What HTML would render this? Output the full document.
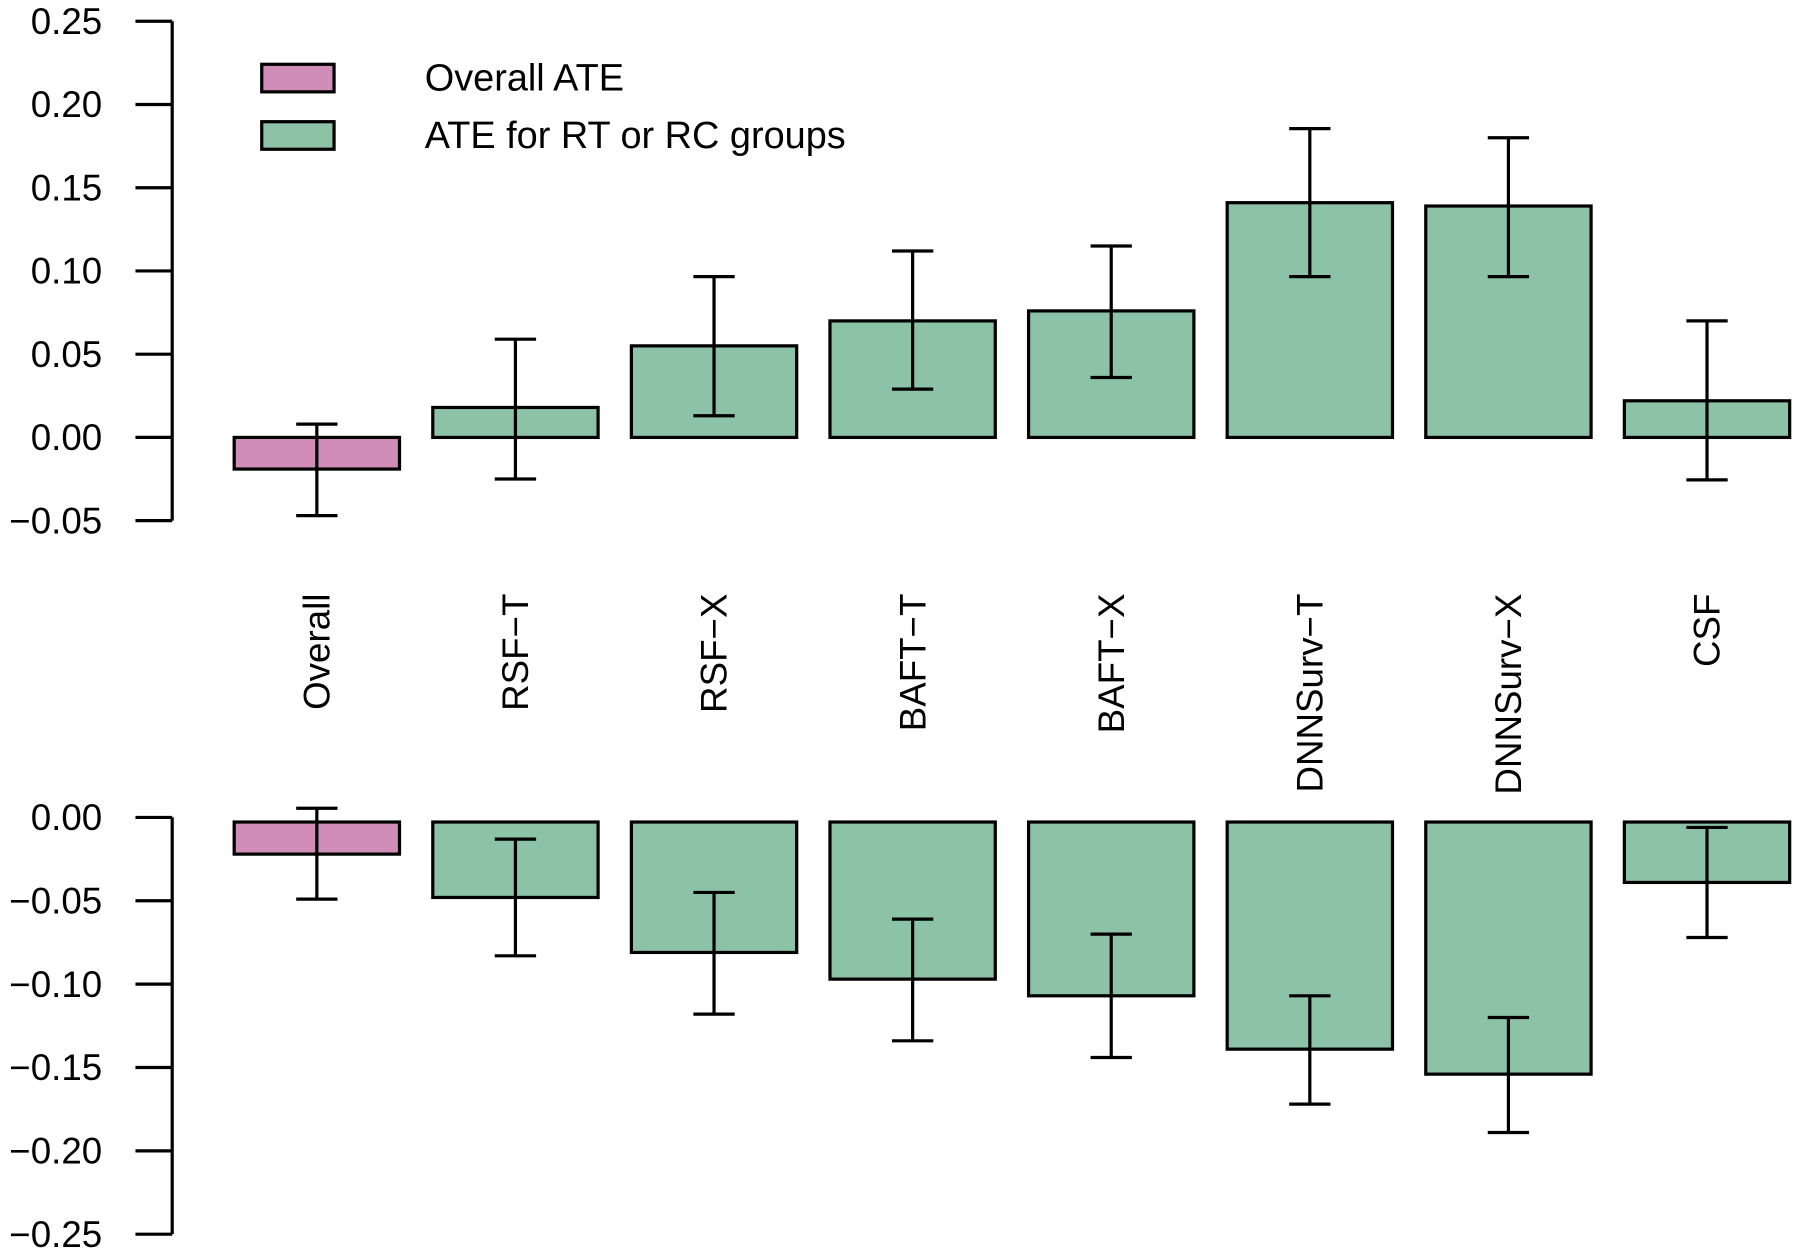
<!DOCTYPE html>
<html><head><meta charset="utf-8"><style>html,body{margin:0;padding:0;background:#fff}svg{display:block}</style></head>
<body>
<svg id="chart" width="1800" height="1256" viewBox="0 0 1568 1094" preserveAspectRatio="none" xmlns="http://www.w3.org/2000/svg" font-family="'Liberation Sans', sans-serif"></svg>
<script>
const categories = ["Overall","RSF\u2212T","RSF\u2212X","BAFT\u2212T","BAFT\u2212X","DNNSurv\u2212T","DNNSurv\u2212X","CSF"];
const topValues = [-0.019,0.018,0.055,0.070,0.076,0.141,0.139,0.022];
const topLow = [-0.047,-0.025,0.013,0.029,0.036,0.0966,0.0966,-0.0255];
const topHigh = [0.008,0.059,0.0966,0.112,0.115,0.1855,0.180,0.070];
const botValues = [-0.022,-0.048,-0.081,-0.097,-0.107,-0.139,-0.154,-0.039];
const botLow = [-0.049,-0.083,-0.118,-0.134,-0.144,-0.172,-0.189,-0.072];
const botHigh = [0.0055,-0.013,-0.045,-0.061,-0.070,-0.107,-0.120,-0.006];
const topTicks = [0.25,0.20,0.15,0.10,0.05,0.00,-0.05];
const botTicks = [0.00,-0.05,-0.10,-0.15,-0.20,-0.25];

const svg = document.getElementById('chart');
const NS = 'http://www.w3.org/2000/svg';
function mk(tag, attrs, parent){const e=document.createElementNS(NS,tag);for(const k in attrs)e.setAttribute(k,attrs[k]);(parent||svg).appendChild(e);return e;}
const PINK='#cf8db7', GREEN='#8cc2a6';
const SW = 2.8;
const xc = i => 276 + i*173;
const BW = 144;
const yTop = v => 381 - v/0.05*72.5;
const yBot = v => 712 - v/0.05*72.6;

function panel(name, yf, ticks, vals, lo, hi, zeroOff){
  const g = mk('g',{});
  
  
  const ax = mk('line',{x1:150,x2:150,y1:yf(ticks[0]),y2:yf(ticks[ticks.length-1]),stroke:'#000','stroke-width':SW},g);
  
  
  ticks.forEach(t=>{
    const tk = mk('line',{x1:118,x2:150,y1:yf(t),y2:yf(t),stroke:'#000','stroke-width':SW},g);
    
    
    const lb = mk('text',{x:89,y:yf(t)+11,'text-anchor':'end','font-size':32,fill:'#000'},g);
    lb.textContent = t.toFixed(2).replace('-','\u2212');
    
    
  });
  vals.forEach((v,i)=>{
    const y0 = yf(0)+zeroOff, y1 = yf(v);
    const r = mk('rect',{x:xc(i)-BW/2,y:Math.min(y0,y1),width:BW,height:Math.abs(y1-y0),fill:i===0?PINK:GREEN,stroke:'#000','stroke-width':SW},g);
    
    
    const eg = mk('g',{stroke:'#000','stroke-width':SW},g);
    
    
    mk('line',{x1:xc(i),x2:xc(i),y1:yf(lo[i]),y2:yf(hi[i])},eg);
    mk('line',{x1:xc(i)-18,x2:xc(i)+18,y1:yf(lo[i]),y2:yf(lo[i])},eg);
    mk('line',{x1:xc(i)-18,x2:xc(i)+18,y1:yf(hi[i]),y2:yf(hi[i])},eg);
  });
}
panel('top-panel', yTop, topTicks, topValues, topLow, topHigh, 0);
panel('bottom-panel', yBot, botTicks, botValues, botLow, botHigh, 4);

categories.forEach((c,i)=>{
  const t = mk('text',{x:0,y:0,transform:`translate(${xc(i)+11},517) rotate(-90)`,'text-anchor':'end','font-size':32,fill:'#000'});
  t.textContent = c;
  
  
});

const legend = mk('g',{});


[[PINK,'Overall ATE',56],[GREEN,'ATE for RT or RC groups',106]].forEach(([col,lab,y])=>{
  const sw = mk('rect',{x:228,y:y,width:63,height:24,fill:col,stroke:'#000','stroke-width':SW},legend);
  
  
  const tx = mk('text',{x:370,y:y+23,'font-size':33,fill:'#000'},legend);
  tx.textContent = lab;
  
  
});
</script>
</body></html>
